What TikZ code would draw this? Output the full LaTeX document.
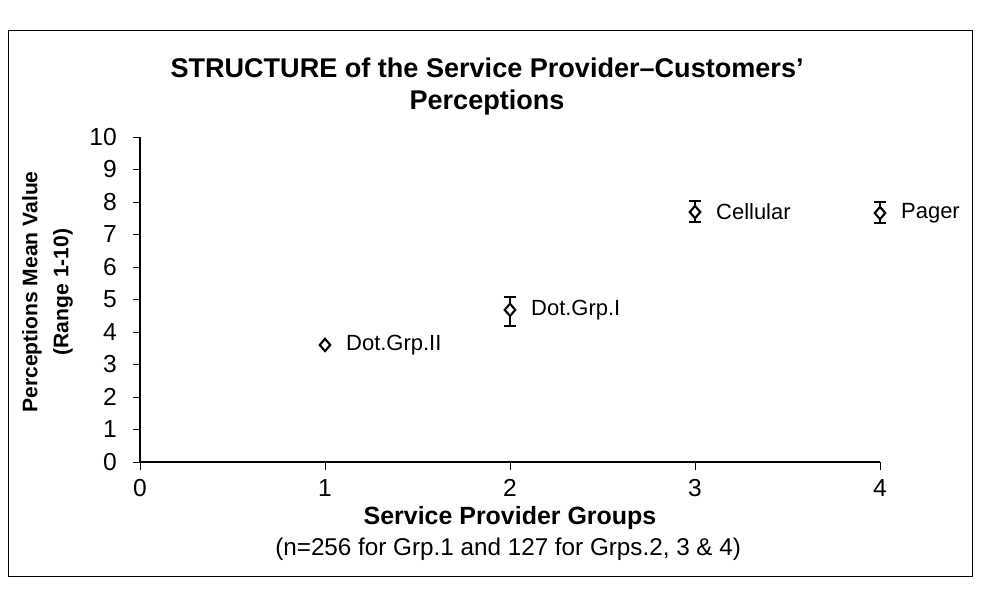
\documentclass[tikz,border=0pt]{standalone}
\usepackage{fontspec}
\setmainfont{Liberation Sans}
\usetikzlibrary{shapes.geometric,arrows.meta,positioning}

\tikzset{
	grp/.style={draw, line width=1.2pt, diamond, fill=white, inner sep=0pt, minimum width=6.5pt, minimum height=7.5pt},
	grplabel/.style={right=8pt of #1, inner sep=0pt, font=\fontsize{12.5}{15}\selectfont},
	errbar/.style={line width=1.1pt, {Bar[width=7pt]}-{Bar[width=7pt]}},
	ticklabel/.style={inner sep=0pt, font=\fontsize{14}{16}\selectfont},
}

\begin{document}
\begin{tikzpicture}[x=3.7cm, y=0.65cm]
	\useasboundingbox (-0.7568,-4.031) rectangle (4.5459,14.215);
	% Frame
	\draw[line width=0.5pt] (-0.7135,-3.508) rectangle (4.4973,13.29);

	% Title
	\node[align=center, font=\fontsize{15.4}{18.2}\selectfont\bfseries] (title) at (1.876,11.54)
		{STRUCTURE of the Service Provider–Customers’\\Perceptions};

	% Draw axes
	\coordinate (o) at (0,0);
	%Y
	\coordinate (ytop) at (0,10);
	\draw[line width=0.8pt] (o) -- (ytop);
	\foreach \y in {0,...,10}
		\draw (0,\y) -- ++(-4pt,0) node[ticklabel, left=9pt] {\y};
	\node[rotate=90, align=center, font=\fontsize{12}{17.6}\selectfont\bfseries] (ylab) at (-0.5,5.23)
		{Perceptions Mean Value\\(Range 1-10)};
	%X
	\coordinate (xend) at (4,0);
	\draw[line width=0.8pt] (o) -- (xend);
	\foreach \x in {0,...,4} {
		\draw (\x,0) -- ++(0,-4.5pt);
		\node[ticklabel] at (\x,-0.8) {\x};
	}
	\node[font=\fontsize{14.2}{17}\selectfont\bfseries] (xlab) at (2.0,-1.723) {Service Provider Groups};
	\node[font=\fontsize{13.8}{16}\selectfont] (xnote) at (1.99,-2.677) {(n=256 for Grp.1 and 127 for Grps.2, 3 \& 4)};

	% Error bars
	\coordinate (g2lo) at (2,4.15);
	\coordinate (g2hi) at (2,5.11);
	\draw[errbar] (g2lo) -- (g2hi);
	\coordinate (g3lo) at (3,7.35);
	\coordinate (g3hi) at (3,8.06);
	\draw[errbar] (g3lo) -- (g3hi);
	\coordinate (g4lo) at (4,7.32);
	\coordinate (g4hi) at (4,8.03);
	\draw[errbar] (g4lo) -- (g4hi);

	% Plot group means
	\node[grp] (g1) at (1,3.6) {};
	\node[grp] (g2) at (2,4.68) {};
	\node[grp] (g3) at (3,7.69) {};
	\node[grp] (g4) at (4,7.66) {};
	\node[grplabel=g1] {Dot.Grp.II};
	\node[grplabel=g2] {Dot.Grp.I};
	\node[grplabel=g3] {Cellular};
	\node[grplabel=g4] {Pager};
\end{tikzpicture}
\end{document}
